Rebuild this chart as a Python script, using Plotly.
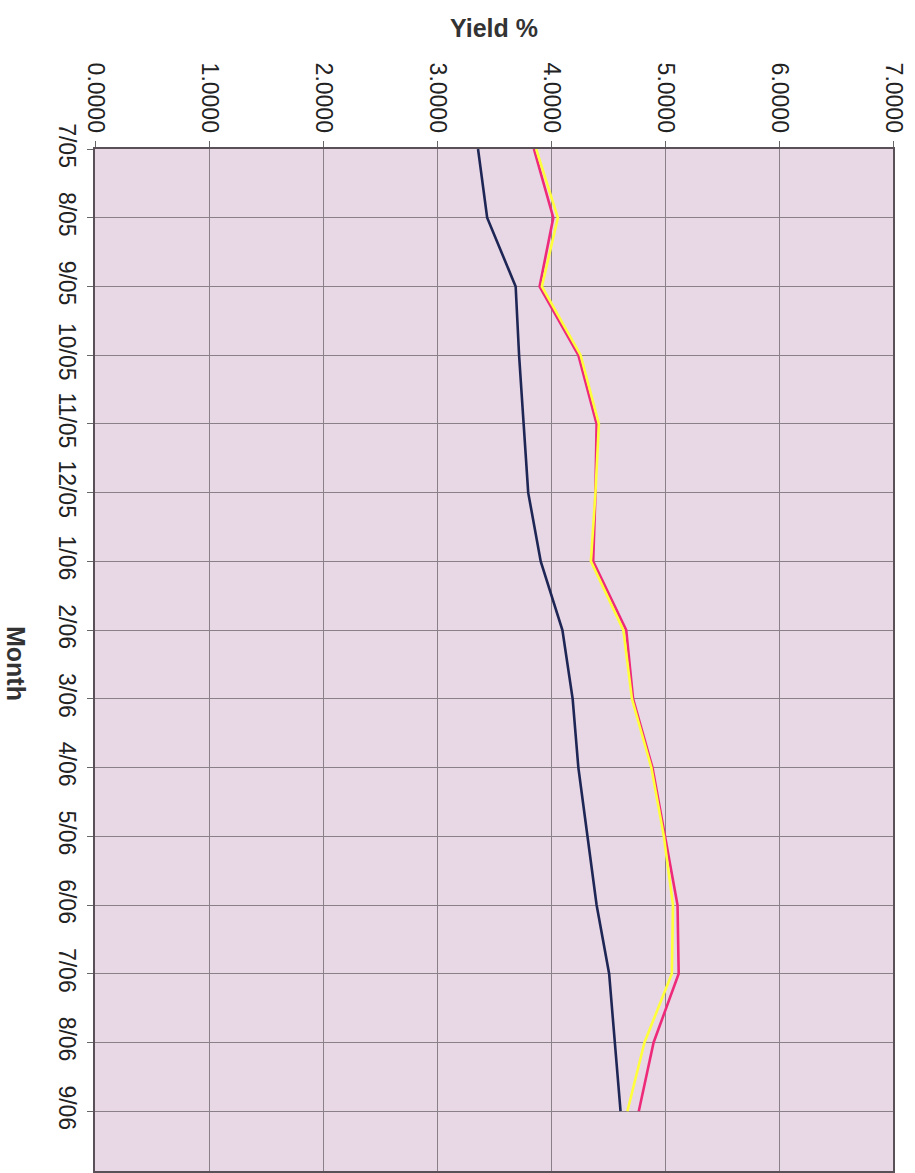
import plotly.graph_objects as go

months = ["7/05", "8/05", "9/05", "10/05", "11/05", "12/05", "1/06", "2/06",
          "3/06", "4/06", "5/06", "6/06", "7/06", "8/06", "9/06"]
series_navy = [3.36, 3.44, 3.69, 3.72, 3.76, 3.80, 3.91, 4.10, 4.19, 4.24, 4.32, 4.40, 4.51, 4.56, 4.61]
series_pink = [3.85, 4.02, 3.90, 4.24, 4.40, 4.39, 4.37, 4.66, 4.72, 4.89, 5.00, 5.11, 5.12, 4.90, 4.77]
series_yellow = [3.87, 4.06, 3.92, 4.26, 4.42, 4.39, 4.35, 4.635, 4.71, 4.88, 4.99, 5.07, 5.06, 4.82, 4.67]
yield_ticks = [0, 1, 2, 3, 4, 5, 6, 7]

idx = list(range(len(months)))

fig = go.Figure()
fig.add_trace(go.Scatter(x=series_navy, y=idx, mode="lines",
                         line=dict(color="#1E2656", width=2.6), showlegend=False))
fig.add_trace(go.Scatter(x=series_pink, y=idx, mode="lines",
                         line=dict(color="#EE2A7B", width=2.6), showlegend=False))
fig.add_trace(go.Scatter(x=series_yellow, y=idx, mode="lines",
                         line=dict(color="#FFFF3C", width=2.6), showlegend=False))

L, R, T, B = 95, 22, 149, 2
W, H = 915, 1173
pw = W - L - R
ph = H - T - B

fig.update_layout(
    width=W, height=H,
    margin=dict(l=L, r=R, t=T, b=B, autoexpand=False),
    paper_bgcolor="white",
    plot_bgcolor="#E8D7E4",
    font=dict(family="Liberation Sans, Arial, sans-serif", size=23, color="#222222"),
    xaxis=dict(
        side="top", range=[0, 7], tickvals=yield_ticks, tickformat=".4f",
        tickangle=90, showgrid=True, gridcolor="#8A8088", gridwidth=1,
        ticks="outside", ticklen=6, tickcolor="#666666",
        showline=True, linecolor="#5A5058", linewidth=2, mirror=True,
        zeroline=False, automargin=False,
    ),
    yaxis=dict(
        range=[14.87, 0], tickvals=idx, ticktext=months, tickangle=90,
        showgrid=True, gridcolor="#8A8088", gridwidth=1,
        ticks="outside", ticklen=6, tickcolor="#666666",
        showline=True, linecolor="#5A5058", linewidth=2, mirror=True,
        zeroline=False, automargin=False,
    ),
    annotations=[
        dict(text="<b>Yield %</b>", xref="paper", yref="paper", x=0.5,
             y=1 + (T - 28) / ph, xanchor="center", yanchor="middle",
             showarrow=False, font=dict(size=25, color="#333333")),
        dict(text="<b>Month</b>", xref="paper", yref="paper",
             x=(16 - L) / pw, y=1 - (663 - T) / ph, xanchor="center", yanchor="middle",
             textangle=90, showarrow=False, font=dict(size=25, color="#333333")),
    ],
)

fig.write_html("out.html")
